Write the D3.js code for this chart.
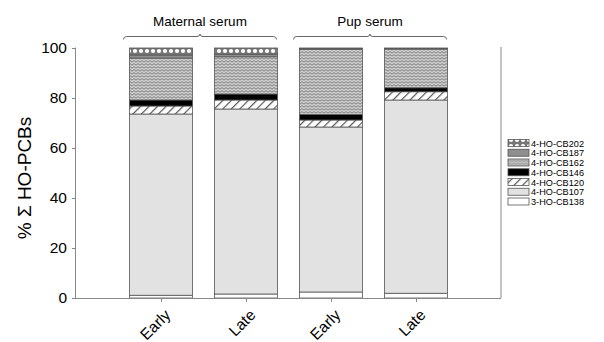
<!DOCTYPE html>
<html>
<head>
<meta charset="utf-8">
<script src="https://cdn.jsdelivr.net/npm/d3@7"></script>
<style>
  body { margin: 0; background: #fff; }
  text { font-family: "Liberation Sans", Arial, sans-serif; }
</style>
</head>
<body>
<div id="chart"></div>
<script>
// data
var bars = ["Early", "Late", "Early", "Late"];
var groups = ["Maternal serum", "Pup serum"];
var compounds = ["3-HO-CB138", "4-HO-CB107", "4-HO-CB120", "4-HO-CB146", "4-HO-CB162", "4-HO-CB187", "4-HO-CB202"];
var cb138 = [1.1, 1.6, 2.4, 1.9];
var cb107 = [72.5, 74.0, 66.0, 77.3];
var cb120 = [3.2, 3.6, 2.8, 3.3];
var cb146 = [2.4, 2.4, 2.2, 1.6];
var cb162 = [16.8, 14.9, 26.1, 15.5];
var cb187 = [1.2, 1.0, 0.3, 0.2];
var cb202 = [2.8, 2.5, 0.2, 0.2];
var yTicks = [0, 20, 40, 60, 80, 100];

var series = [cb138, cb107, cb120, cb146, cb162, cb187, cb202];

var svgWidth = 604, svgHeight = 342;
var svg = d3.select("#chart").append("svg")
    .attr("width", svgWidth)
    .attr("height", svgHeight);

// patterns
var defs = svg.append("defs");

var p202 = defs.append("pattern").attr("id", "p202")
    .attr("patternUnits", "userSpaceOnUse").attr("width", 6).attr("height", 6);
p202.append("rect").attr("width", 6).attr("height", 6).attr("fill", "#777");
p202.append("circle").attr("cx", 3).attr("cy", 3).attr("r", 2.1).attr("fill", "#fff");

var p162 = defs.append("pattern").attr("id", "p162")
    .attr("patternUnits", "userSpaceOnUse").attr("width", 4).attr("height", 3);
p162.append("rect").attr("width", 4).attr("height", 3).attr("fill", "#d0d0d0");
p162.append("path").attr("d", "M0,2.2 L2,0.6 L4,2.2").attr("fill", "none")
    .attr("stroke", "#6e6e6e").attr("stroke-width", 0.9);

var p120 = defs.append("pattern").attr("id", "p120")
    .attr("patternUnits", "userSpaceOnUse").attr("width", 6).attr("height", 6)
    .attr("patternTransform", "rotate(45)");
p120.append("rect").attr("width", 6).attr("height", 6).attr("fill", "#fff");
p120.append("line").attr("x1", 0).attr("y1", 0).attr("x2", 0).attr("y2", 6)
    .attr("stroke", "#555").attr("stroke-width", 2.4);

var fills = ["#ffffff", "#e2e2e2", "url(#p120)", "#000000", "url(#p162)", "#8f8f8f", "url(#p202)"];

// scales
var x = d3.scaleLinear().domain([0, 5]).range([76, 501]);
var y = d3.scaleLinear().domain([0, 100]).range([298, 48]);
var barW = 63;

// stack
var rows = bars.map(function (b, i) {
    var r = { i: i };
    compounds.forEach(function (c, k) { r[c] = series[k][i]; });
    return r;
});
var stacked = d3.stack().keys(compounds)(rows);

var axisColor = "#888";

svg.selectAll("g.layer")
    .data(stacked)
    .enter()
    .append("g")
    .attr("class", "layer")
    .attr("fill", function (d, k) { return fills[k]; })
    .selectAll("rect")
    .data(function (d) { return d; })
    .enter()
    .append("rect")
    .attr("x", function (d) { return x(d.data.i + 1) - barW / 2; })
    .attr("width", barW)
    .attr("y", function (d) { return y(d[1]); })
    .attr("height", function (d) { return y(d[0]) - y(d[1]); })
    .attr("stroke", "#555")
    .attr("stroke-width", 0.8);

// axes
var leftAxis = d3.axisLeft(y).tickValues(yTicks).tickSize(4).tickPadding(5);
var gy = svg.append("g").attr("transform", "translate(76,0)").call(leftAxis);
gy.select(".domain").attr("stroke", axisColor).attr("d", "M-0.5,298V47.5");
gy.selectAll(".tick line").attr("stroke", axisColor);
gy.selectAll(".tick text").attr("font-size", 15.5).attr("fill", "#000")
    .attr("font-family", "Liberation Sans, Arial, sans-serif");

var bottomAxis = d3.axisBottom(x).tickValues([1, 2, 3, 4]).tickSize(4).tickFormat(function (d) { return bars[d - 1]; });
var gx = svg.append("g").attr("transform", "translate(0,298)").call(bottomAxis);
gx.select(".domain").attr("stroke", axisColor).attr("d", "M76,0.5H501");
gx.selectAll(".tick line").attr("stroke", axisColor);
gx.selectAll(".tick text")
    .attr("font-size", 15.5).attr("fill", "#000")
    .attr("font-family", "Liberation Sans, Arial, sans-serif")
    .attr("text-anchor", "end")
    .attr("y", 0).attr("dy", 0)
    .attr("transform", "translate(10,18) rotate(-45)");

// right frame line
svg.append("line")
    .attr("x1", 501).attr("x2", 501).attr("y1", 47).attr("y2", 298)
    .attr("stroke", axisColor);

// y title
svg.append("text")
    .attr("transform", "translate(31," + (y(50) + 5) + ") rotate(-90)")
    .attr("text-anchor", "middle")
    .attr("font-size", 19)
    .attr("fill", "#000")
    .text("% \u03A3 HO-PCBs");

// group brackets
groups.forEach(function (g, j) {
    var x0 = x(j * 2 + 1) - barW / 2 - 6;
    var x1 = x(j * 2 + 2) + barW / 2 - 1;
    var xm = (x0 + x1) / 2;
    var yb = 36.5;
    svg.append("path")
        .attr("d", "M" + x0 + "," + (yb + 3) + " Q" + x0 + "," + yb + " " + (x0 + 3) + "," + yb +
            " L" + (xm - 3) + "," + yb + " Q" + xm + "," + yb + " " + xm + "," + (yb - 2.5) +
            " Q" + xm + "," + yb + " " + (xm + 3) + "," + yb +
            " L" + (x1 - 3) + "," + yb + " Q" + x1 + "," + yb + " " + x1 + "," + (yb + 3))
        .attr("fill", "none")
        .attr("stroke", "#666")
        .attr("stroke-width", 1);
    svg.append("text")
        .attr("x", xm)
        .attr("y", 26)
        .attr("text-anchor", "middle")
        .attr("font-size", 13.5)
        .attr("fill", "#000")
        .text(g);
});

// legend
var legendY = d3.scaleLinear().domain([6, 0]).range([143, 201.5]);
var legend = svg.selectAll("g.legend")
    .data(compounds)
    .enter()
    .append("g")
    .attr("class", "legend")
    .attr("transform", function (d, k) { return "translate(508," + legendY(k) + ")"; });

legend.append("rect")
    .attr("x", 0).attr("y", -3.5)
    .attr("width", 21).attr("height", 7)
    .attr("fill", function (d, k) { return fills[k]; })
    .attr("stroke", "#555").attr("stroke-width", 0.8);

legend.append("text")
    .attr("x", 23).attr("y", 3.6)
    .attr("font-size", 9.8)
    .attr("textLength", 53)
    .attr("lengthAdjust", "spacingAndGlyphs")
    .attr("fill", "#000")
    .text(function (d) { return d; });
</script>
</body>
</html>
